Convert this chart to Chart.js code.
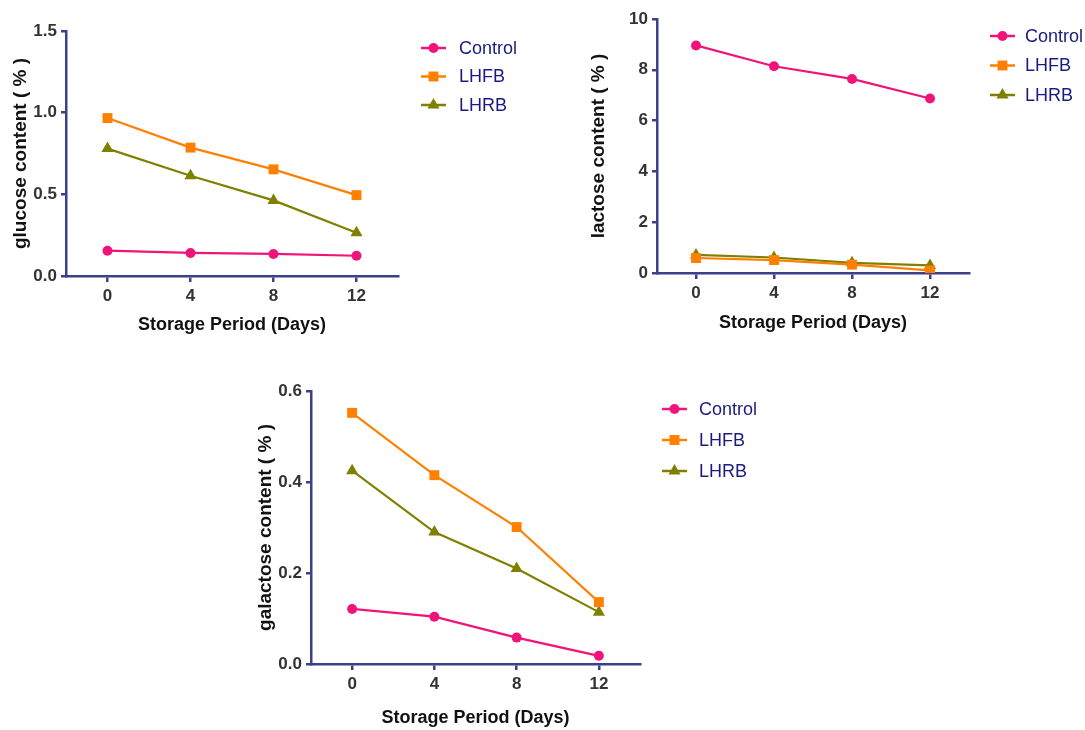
<!DOCTYPE html>
<html>
<head>
<meta charset="utf-8">
<script src="https://cdn.jsdelivr.net/npm/chart.js@4"></script>
<style>
  body { margin: 0; background: #fff; }
  .wrap { position: absolute; }
</style>
</head>
<body>
<div class="wrap" style="left:0;top:0;width:560px;height:345px"><canvas id="glucoseChart"></canvas></div>
<div class="wrap" style="left:560px;top:0;width:525px;height:345px"><canvas id="lactoseChart"></canvas></div>
<div class="wrap" style="left:240px;top:370px;width:600px;height:360px"><canvas id="galactoseChart"></canvas></div>
<script>
// data
const days = [0, 4, 8, 12];
const seriesNames = ["Control", "LHFB", "LHRB"];

const glucoseControl = [0.155, 0.141, 0.135, 0.124];
const glucoseLHFB = [0.967, 0.786, 0.653, 0.495];
const glucoseLHRB = [0.78, 0.614, 0.463, 0.265];

const lactoseControl = [8.96, 8.14, 7.64, 6.87];
const lactoseLHFB = [0.59, 0.51, 0.33, 0.1];
const lactoseLHRB = [0.71, 0.61, 0.40, 0.30];

const galactoseControl = [0.121, 0.104, 0.058, 0.018];
const galactoseLHFB = [0.552, 0.415, 0.301, 0.136];
const galactoseLHRB = [0.425, 0.29, 0.21, 0.114];

const glucoseTicks = [0, 0.5, 1.0, 1.5];
const lactoseTicks = [0, 2, 4, 6, 8, 10];
const galactoseTicks = [0, 0.2, 0.4, 0.6];

const navy = "#3c3f8a";
const colors = ["#f0147a", "#ff8000", "#808000"];
const shapes = ["circle", "rect", "triangle"];
const radii = [5, 7, 7];

function makeDatasets(values) {
  return values.map((vals, i) => ({
    label: seriesNames[i],
    data: days.map((d, j) => ({ x: d, y: vals[j] })),
    borderColor: colors[i],
    backgroundColor: colors[i],
    borderWidth: 2.2,
    pointStyle: shapes[i],
    pointRadius: radii[i],
    pointBorderWidth: 0,
    tension: 0
  }));
}

function drawMarker(ctx, style, x, y, r) {
  ctx.beginPath();
  if (style === "circle") {
    ctx.arc(x, y, r, 0, Math.PI * 2);
  } else if (style === "rect") {
    const s = r * Math.SQRT1_2;
    ctx.rect(x - s, y - s, 2 * s, 2 * s);
  } else {
    ctx.moveTo(x, y - r);
    ctx.lineTo(x + r * 0.866, y + r * 0.5);
    ctx.lineTo(x - r * 0.866, y + r * 0.5);
    ctx.closePath();
  }
  ctx.fill();
}

// simple legend drawn at fixed spot on the canvas
const sideLegend = {
  id: "sideLegend",
  afterDraw(chart, args, opts) {
    const ctx = chart.ctx;
    ctx.save();
    chart.data.datasets.forEach((ds, i) => {
      const y = opts.y + i * opts.gap;
      ctx.strokeStyle = ds.borderColor;
      ctx.fillStyle = ds.borderColor;
      ctx.lineWidth = 2.5;
      ctx.beginPath();
      ctx.moveTo(opts.x, y);
      ctx.lineTo(opts.x + 25, y);
      ctx.stroke();
      drawMarker(ctx, ds.pointStyle, opts.x + 12.5, y, ds.pointRadius);
      ctx.fillStyle = "#1a1a80";
      ctx.font = '18px "Liberation Sans", Arial, sans-serif';
      ctx.textBaseline = "middle";
      ctx.fillText(ds.label, opts.textX, y + 1);
    });
    ctx.restore();
  }
};

function makeChart(id, values, yTicks, yTitle, box) {
  const yMax = yTicks[yTicks.length - 1];
  const step = yTicks[1] - yTicks[0];
  return new Chart(document.getElementById(id), {
    type: "line",
    data: { datasets: makeDatasets(values) },
    plugins: [sideLegend],
    options: {
      responsive: true,
      maintainAspectRatio: false,
      animation: false,
      events: [],
      layout: { padding: { left: 0, top: box.top, right: box.right, bottom: 0 } },
      plugins: {
        legend: { display: false },
        tooltip: { enabled: false },
        sideLegend: box.legend
      },
      scales: {
        x: {
          type: "linear",
          min: -2,
          max: 14,
          afterBuildTicks: (scale) => { scale.ticks = days.map(v => ({ value: v })); },
          afterFit: (scale) => { scale.height = box.xHeight; },
          border: { display: true, color: navy, width: 2.5 },
          grid: { display: true, drawOnChartArea: false, drawTicks: true, tickLength: 6, color: navy, lineWidth: 2.5 },
          ticks: {
            padding: 4,
            color: "#333",
            font: { family: '"Liberation Sans", Arial, sans-serif', size: 17, weight: "bold" }
          },
          title: {
            display: true,
            text: "Storage Period (Days)",
            color: "#111",
            padding: { top: 0, bottom: box.xTitlePad },
            font: { family: '"Liberation Sans", Arial, sans-serif', size: 18, weight: "bold" }
          }
        },
        y: {
          min: 0,
          max: yMax,
          afterBuildTicks: (scale) => { scale.ticks = yTicks.map(v => ({ value: v })); },
          afterFit: (scale) => { scale.width = box.yWidth; },
          border: { display: true, color: navy, width: 2.5 },
          grid: { display: true, drawOnChartArea: false, drawTicks: true, tickLength: 5, color: navy, lineWidth: 2.5 },
          ticks: {
            padding: 4,
            color: "#333",
            font: { family: '"Liberation Sans", Arial, sans-serif', size: 17, weight: "bold" },
            callback: (v) => step < 1 ? Number(v).toFixed(1) : String(v)
          },
          title: {
            display: true,
            text: yTitle,
            color: "#111",
            padding: { top: box.yTitlePad, bottom: 0 },
            font: { family: '"Liberation Sans", Arial, sans-serif', size: 19, weight: "bold" }
          }
        }
      }
    }
  });
}

makeChart("glucoseChart", [glucoseControl, glucoseLHFB, glucoseLHRB], glucoseTicks, "glucose content ( % )", {
  top: 31, right: 162, yWidth: 66, xHeight: 69, yTitlePad: 9, xTitlePad: 9,
  legend: { x: 421, textX: 459, y: 48, gap: 28.5 }
});

makeChart("lactoseChart", [lactoseControl, lactoseLHFB, lactoseLHRB], lactoseTicks, "lactose content ( % )", {
  top: 19, right: 116, yWidth: 97, xHeight: 72, yTitlePad: 27, xTitlePad: 11,
  legend: { x: 430, textX: 465, y: 36, gap: 29.5 }
});

makeChart("galactoseChart", [galactoseControl, galactoseLHFB, galactoseLHRB], galactoseTicks, "galactose content ( % )", {
  top: 21, right: 200, yWidth: 71, xHeight: 66, yTitlePad: 14, xTitlePad: 1,
  legend: { x: 422, textX: 459, y: 39, gap: 31 }
});
</script>
</body>
</html>
